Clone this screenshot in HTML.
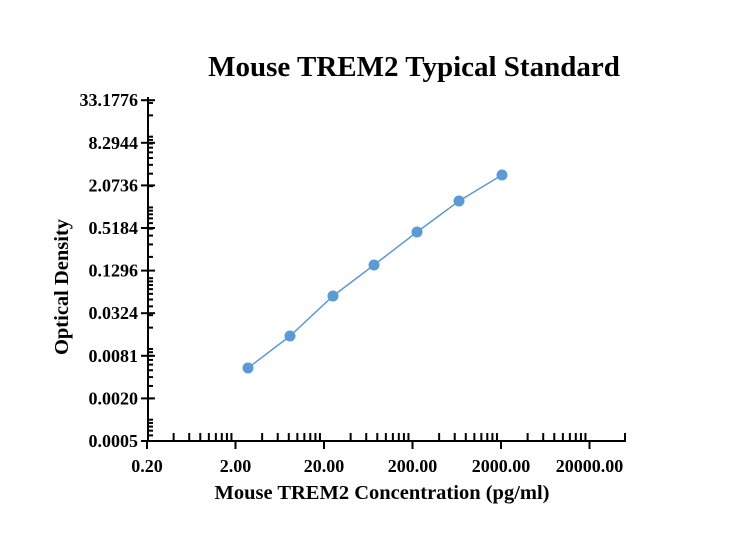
<!DOCTYPE html>
<html><head><style>body{margin:0;background:#fff}svg{display:block}text{font-family:"Liberation Serif",serif;font-weight:bold;fill:#000}</style></head>
<body>
<svg id="s" width="737" height="553" xmlns="http://www.w3.org/2000/svg">
<text x="414" y="76" font-size="29" text-anchor="middle">Mouse TREM2 Typical Standard</text>
<text x="382" y="499" font-size="20.5" text-anchor="middle">Mouse TREM2 Concentration (pg/ml)</text>
<text transform="translate(68,287) rotate(-90)" font-size="20.5" text-anchor="middle">Optical Density</text>
<g id="g" stroke="#000" stroke-width="2"></g>
<g id="t" font-size="18"></g>
<polyline points="248,368 290,336 333,296 374,265 417,232 459,201 502,175" fill="none" stroke="#5b9bd5" stroke-width="1.5"/>
<g fill="#5b9bd5"><circle cx="248" cy="368" r="5.5"/><circle cx="290" cy="336" r="5.5"/><circle cx="333" cy="296" r="5.5"/><circle cx="374" cy="265" r="5.5"/><circle cx="417" cy="232" r="5.5"/><circle cx="459" cy="201" r="5.5"/><circle cx="502" cy="175" r="5.5"/></g>
</svg>
<script>
var g=document.getElementById('g'),t=document.getElementById('t'),h='',tt='';
function L(a,b,c,d){h+='<line x1="'+a+'" y1="'+b+'" x2="'+c+'" y2="'+d+'"/>';}
L(148,97,148,442);L(147,441,626,441);
function X(v){return 147+Math.log10(v/0.2)*88.5;}
var xl=['0.20','2.00','20.00','200.00','2000.00','20000.00'];
for(var n=0;n<6;n++){var b=0.2*Math.pow(10,n),x=X(b);L(x,441,x,449);tt+='<text x="'+x+'" y="472" text-anchor="middle">'+xl[n]+'</text>';
 if(n<5)for(var k=2;k<10;k++){var xx=X(b*k);L(xx,441,xx,433);}}
L(625,441,625,433);
function Y(v){return 441-Math.log(v/0.0005)/Math.log(4)*42.6;}
var yl=['0.0005','0.0020','0.0081','0.0324','0.1296','0.5184','2.0736','8.2944','33.1776'];
for(var i=0;i<9;i++){var y=441-i*42.6;L(141,y,155,y);tt+='<text x="138" y="'+(y+6)+'" text-anchor="end">'+yl[i]+'</text>';}
for(var e=-4;e<2;e++)for(var k=1;k<10;k++){var v=k*Math.pow(10,e),y=Y(v);if(y<441&&y>99)L(148,y,153,y);}
g.innerHTML=h;t.innerHTML=tt;
</script>
</body></html>
